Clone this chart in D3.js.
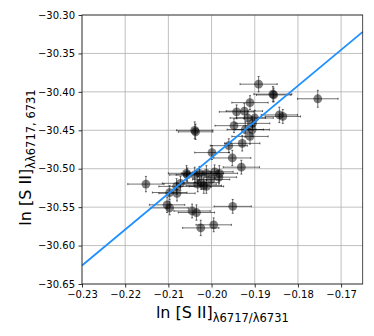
<!DOCTYPE html>
<html>
<head>
<meta charset="utf-8">
<script src="https://cdn.jsdelivr.net/npm/d3@7"></script>
<style>
  body { margin: 0; background: #fff; }
  svg { font-family: "DejaVu Sans", sans-serif; }
</style>
</head>
<body>
<svg width="374" height="336"></svg>
<script>
const xs = [-0.1891, -0.1858, -0.1856, -0.1754, -0.1911, -0.1942, -0.1924, -0.1916, -0.1900, -0.1905,
  -0.1948, -0.1922, -0.1906, -0.2039, -0.2037, -0.1843, -0.1835, -0.1911, -0.1960, -0.1929,
  -0.1999, -0.1952, -0.1931, -0.2152, -0.2058, -0.2056, -0.2039, -0.2028, -0.2012, -0.1993,
  -0.1982, -0.1983, -0.2001, -0.2024, -0.2018, -0.2012, -0.2032, -0.2072, -0.2081, -0.2097,
  -0.2080, -0.2103, -0.2097, -0.2045, -0.2035, -0.1951, -0.2025, -0.1995];
const ys = [-30.390, -30.403, -30.404, -30.409, -30.414, -30.426, -30.425, -30.434, -30.434, -30.441,
  -30.444, -30.449, -30.449, -30.450, -30.452, -30.430, -30.432, -30.458, -30.470, -30.467,
  -30.479, -30.486, -30.498, -30.520, -30.506, -30.508, -30.508, -30.506, -30.506, -30.504,
  -30.506, -30.511, -30.514, -30.518, -30.522, -30.523, -30.520, -30.519, -30.523, -30.531,
  -30.532, -30.547, -30.551, -30.555, -30.557, -30.549, -30.577, -30.573];
const xerr = [0.0043, 0.0044, 0.0040, 0.0047, 0.0042, 0.0040, 0.0042, 0.0041, 0.0043, 0.0040,
  0.0044, 0.0042, 0.0040, 0.0042, 0.0040, 0.0042, 0.0041, 0.0042, 0.0043, 0.0041,
  0.0040, 0.0043, 0.0042, 0.0042, 0.0042, 0.0041, 0.0043, 0.0042, 0.0040, 0.0043,
  0.0042, 0.0041, 0.0043, 0.0042, 0.0041, 0.0040, 0.0043, 0.0042, 0.0041, 0.0040,
  0.0042, 0.0041, 0.0043, 0.0042, 0.0042, 0.0043, 0.0042, 0.0041];
const yerr = [0.010, 0.010, 0.009, 0.011, 0.009, 0.009, 0.010, 0.009, 0.010, 0.009,
  0.009, 0.010, 0.009, 0.011, 0.010, 0.010, 0.009, 0.010, 0.009, 0.010,
  0.009, 0.010, 0.009, 0.010, 0.010, 0.009, 0.010, 0.009, 0.010, 0.009,
  0.010, 0.009, 0.010, 0.009, 0.010, 0.009, 0.010, 0.009, 0.010, 0.009,
  0.010, 0.010, 0.009, 0.009, 0.010, 0.009, 0.010, 0.009];
const fitX = [-0.23, -0.165];
const fitY = [-30.626, -30.322];
const xTicks = [-0.23, -0.22, -0.21, -0.20, -0.19, -0.18, -0.17];
const yTicks = [-30.65, -30.60, -30.55, -30.50, -30.45, -30.40, -30.35, -30.30];

const svg = d3.select("svg");
const mLeft = 82, mRight = 362.7, mTop = 15, mBottom = 284;

const x = d3.scaleLinear().domain([-0.23, -0.165]).range([mLeft, mRight]);
const y = d3.scaleLinear().domain([-30.65, -30.30]).range([mBottom, mTop]);

const fmt = d => d3.format(".2f")(d).replace("-", "\u2212");

// grid
svg.append("g").selectAll("line").data(xTicks).join("line")
  .attr("x1", d => x(d)).attr("x2", d => x(d)).attr("y1", mTop).attr("y2", mBottom)
  .attr("stroke", "#b0b0b0").attr("stroke-width", 0.8);
svg.append("g").selectAll("line").data(yTicks).join("line")
  .attr("x1", mLeft).attr("x2", mRight).attr("y1", d => y(d)).attr("y2", d => y(d))
  .attr("stroke", "#b0b0b0").attr("stroke-width", 0.8);

const xAxis = svg.append("g")
  .attr("transform", `translate(0,${mBottom})`)
  .call(d3.axisBottom(x).tickValues(xTicks).tickFormat(fmt).tickSize(3.5).tickPadding(3.5).tickSizeOuter(0));
const yAxis = svg.append("g")
  .attr("transform", `translate(${mLeft},0)`)
  .call(d3.axisLeft(y).tickValues(yTicks).tickFormat(fmt).tickSize(3.5).tickPadding(3.5).tickSizeOuter(0));
[xAxis, yAxis].forEach(a => {
  a.select(".domain").remove();
  a.selectAll("text").attr("font-size", 10).attr("fill", "#000").attr("font-family", "DejaVu Sans");
  a.selectAll("line").attr("stroke", "#000").attr("stroke-width", 0.8);
});

// error bars
const pts = xs.map((d, i) => ({ x: d, y: ys[i], ex: xerr[i], ey: yerr[i] }));
const eb = svg.append("g").attr("stroke", "#000").attr("stroke-width", 0.8).attr("stroke-opacity", 0.7);
pts.forEach(p => {
  eb.append("line").attr("x1", x(p.x - p.ex)).attr("x2", x(p.x + p.ex)).attr("y1", y(p.y)).attr("y2", y(p.y));
  eb.append("line").attr("x1", x(p.x)).attr("x2", x(p.x)).attr("y1", y(p.y - p.ey)).attr("y2", y(p.y + p.ey));
  [p.x - p.ex, p.x + p.ex].forEach(v => eb.append("line")
    .attr("x1", x(v)).attr("x2", x(v)).attr("y1", y(p.y) - 1).attr("y2", y(p.y) + 1));
  [p.y - p.ey, p.y + p.ey].forEach(v => eb.append("line")
    .attr("x1", x(p.x) - 1).attr("x2", x(p.x) + 1).attr("y1", y(v)).attr("y2", y(v)));
});

// markers
svg.append("g").selectAll("circle").data(pts).join("circle")
  .attr("cx", d => x(d.x)).attr("cy", d => y(d.y)).attr("r", 4.4)
  .attr("fill", "#000").attr("fill-opacity", 0.5);

// fit line
svg.append("path")
  .datum(fitX.map((d, i) => [d, fitY[i]]))
  .attr("d", d3.line().x(d => x(d[0])).y(d => y(d[1])))
  .attr("fill", "none").attr("stroke", "#1e90ff").attr("stroke-width", 1.8);

// frame
svg.append("rect").attr("x", mLeft).attr("y", mTop).attr("width", mRight - mLeft).attr("height", mBottom - mTop)
  .attr("fill", "none").attr("stroke", "#222").attr("stroke-width", 0.8);

// axis labels
const xl = svg.append("text").attr("x", (mLeft + mRight) / 2).attr("y", 318)
  .attr("text-anchor", "middle").attr("font-size", 16);
xl.append("tspan").text("ln [S II]");
xl.append("tspan").attr("font-size", 11.5).attr("dy", 3.5).text("\u03bb6717/\u03bb6731");

const yl = svg.append("text").attr("transform", `translate(31,${(mTop + mBottom) / 2 + 8}) rotate(-90)`)
  .attr("text-anchor", "middle").attr("font-size", 16);
yl.append("tspan").text("ln [S II]");
yl.append("tspan").attr("font-size", 11.5).attr("dy", 3.5).text("\u03bb\u03bb6717, 6731");
</script>
</body>
</html>
